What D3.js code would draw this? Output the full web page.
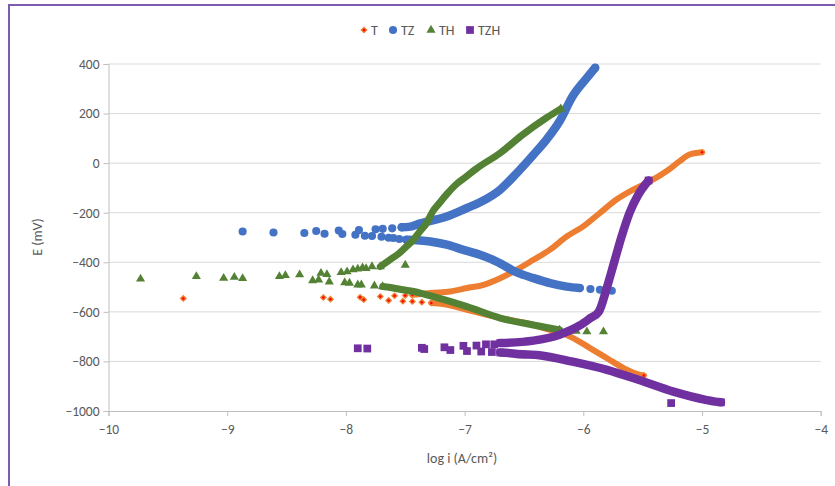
<!DOCTYPE html>
<html>
<head>
<meta charset="utf-8">
<script src="https://cdn.jsdelivr.net/npm/d3@7"></script>
<style>
  html, body { margin: 0; padding: 0; background: #ffffff; }
  svg { display: block; font-family: "Carlito", "Lato", "Open Sans", sans-serif; }
</style>
</head>
<body>
<svg id="chart" width="835" height="486"></svg>
<script>
// ---------- DATA ----------
const seriesNames = ["T", "TZ", "TH", "TZH"];
const xTicks = [-10, -9, -8, -7, -6, -5, -4];
const yTicks = [-1000, -800, -600, -400, -200, 0, 200, 400];
const xTitle = "log i (A/cm²)";
const yTitle = "E (mV)";

// T
const tScatter = [[-9.37,-546],[-8.19,-542],[-8.13,-549],[-7.88,-541],[-7.85,-551],[-7.71,-538],[-7.64,-554],[-7.59,-535],[-7.52,-557],[-7.50,-534],[-7.44,-558],[-7.36,-561]];
const tAnodic = [[-7.44,-531],[-7.38,-529],[-7.29,-524],[-7.12,-518],[-6.98,-504],[-6.84,-491],[-6.70,-464],[-6.56,-430],[-6.42,-390],[-6.28,-349],[-6.14,-296],[-6.00,-255],[-5.86,-201],[-5.72,-147],[-5.58,-107],[-5.44,-74],[-5.30,-33],[-5.19,7],[-5.11,34],[-5.00,44]];
const tCathodic = [[-7.28,-564],[-7.18,-568],[-6.98,-592],[-6.70,-625],[-6.42,-653],[-6.28,-673],[-6.14,-693],[-5.94,-747],[-5.80,-787],[-5.66,-827],[-5.52,-854],[-5.49,-857]];

// TZ
const tzScatter = [[-8.87,-276],[-8.61,-280],[-8.35,-282],[-8.25,-274],[-8.18,-285],[-8.06,-272],[-8.03,-286],[-7.92,-289],[-7.89,-270],[-7.84,-293],[-7.78,-294],[-7.75,-267],[-7.69,-265],[-7.61,-263],[-7.70,-297],[-7.64,-301],[-7.60,-302],[-7.55,-306],[-5.94,-508],[-5.86,-511],[-5.76,-515]];
const tzAnodic = [[-7.53,-259],[-7.47,-257],[-7.38,-244],[-7.15,-215],[-6.98,-181],[-6.87,-158],[-6.70,-107],[-6.56,-40],[-6.42,34],[-6.31,95],[-6.20,169],[-6.09,270],[-5.97,344],[-5.90,385]];
const tzCathodic = [[-7.49,-309],[-7.29,-316],[-7.15,-329],[-7.01,-350],[-6.87,-370],[-6.73,-397],[-6.56,-441],[-6.42,-464],[-6.28,-484],[-6.14,-498],[-6.03,-504]];

// TH
const thScatter = [[-9.73,-467],[-9.26,-457],[-9.03,-464],[-8.94,-460],[-8.87,-465],[-8.56,-457],[-8.51,-453],[-8.39,-450],[-8.28,-474],[-8.23,-471],[-8.21,-444],[-8.16,-449],[-8.14,-479],[-8.04,-441],[-7.99,-438],[-7.94,-430],[-7.90,-427],[-7.86,-422],[-7.83,-425],[-7.78,-417],[-8.01,-482],[-7.97,-484],[-7.90,-491],[-7.87,-491],[-7.76,-495],[-7.50,-411],[-6.06,-678],[-5.97,-680],[-5.83,-680]];
const thAnodic = [[-7.71,-417],[-7.63,-390],[-7.55,-363],[-7.49,-336],[-7.43,-309],[-7.38,-277],[-7.32,-242],[-7.27,-196],[-7.21,-160],[-7.15,-125],[-7.07,-85],[-6.98,-52],[-6.90,-22],[-6.70,41],[-6.51,115],[-6.31,183],[-6.19,219]];
const thCathodic = [[-7.69,-498],[-7.60,-504],[-7.52,-511],[-7.43,-518],[-7.27,-538],[-6.98,-579],[-6.70,-625],[-6.42,-653],[-6.20,-673]];

// TZH
const tzhScatter = [[-7.90,-747],[-7.82,-748],[-7.36,-745],[-7.34,-750],[-7.17,-743],[-7.12,-754],[-7.01,-737],[-6.98,-758],[-6.90,-736],[-6.86,-760],[-6.82,-731],[-6.77,-762],[-6.75,-731],[-5.26,-968]];
const tzhAnodic = [[-6.70,-726],[-6.42,-716],[-6.20,-692],[-6.03,-655],[-5.94,-625],[-5.87,-600],[-5.80,-500],[-5.74,-400],[-5.68,-300],[-5.61,-200],[-5.54,-130],[-5.45,-70]];
const tzhCathodic = [[-6.70,-764],[-6.63,-766],[-6.56,-770],[-6.37,-775],[-6.09,-801],[-5.80,-834],[-5.53,-875],[-5.24,-922],[-4.96,-956],[-4.89,-962],[-4.84,-965]];

// ---------- CHART ----------
const svg = d3.select("#chart");
const W = 835, H = 486;
const x = d3.scaleLinear().domain([-10, -4]).range([108.5, 820.7]);
const y = d3.scaleLinear().domain([-1000, 400]).range([411, 64]);

const textColor = "#595959";
const gridColor = "#d9d9d9";
const axisColor = "#bfbfbf";
const fontFam = "Carlito, Lato, sans-serif";

// frame
svg.append("line").attr("x1", 9).attr("x2", W).attr("y1", 5).attr("y2", 5)
  .attr("stroke", "#7f5bb0").attr("stroke-width", 2);
svg.append("line").attr("x1", 9).attr("x2", 9).attr("y1", 4).attr("y2", H)
  .attr("stroke", "#7f5bb0").attr("stroke-width", 2);

// gridlines
svg.append("g").selectAll("line").data(yTicks.filter(d => d !== -1000)).join("line")
  .attr("x1", x(-10)).attr("x2", x(-4))
  .attr("y1", d => y(d)).attr("y2", d => y(d))
  .attr("stroke", gridColor).attr("stroke-width", 1);

// y axis
const yAxis = d3.axisLeft(y).tickValues(yTicks).tickSize(5).tickPadding(4).tickFormat(d3.format("d"));
const gy = svg.append("g").attr("transform", `translate(${x(-10)},0)`).call(yAxis);
gy.selectAll("path, line").attr("stroke", axisColor);
gy.selectAll("text").attr("fill", textColor).style("font-size", "13.5px").style("font-family", fontFam);

// x axis
const xAxis = d3.axisBottom(x).tickValues(xTicks).tickSize(5).tickPadding(8).tickFormat(d3.format("d"));
const gx = svg.append("g").attr("transform", `translate(0,${y(-1000)})`).call(xAxis);
gx.selectAll("path, line").attr("stroke", axisColor);
gx.selectAll("text").attr("fill", textColor).style("font-size", "13.5px").style("font-family", fontFam);

// axis titles
svg.append("text").attr("transform", `translate(42,237) rotate(-90)`)
  .attr("text-anchor", "middle").attr("fill", textColor).style("font-size", "14px").text(yTitle);
svg.append("text").attr("x", 462).attr("y", 463)
  .attr("text-anchor", "middle").attr("fill", textColor).style("font-size", "14px").text(xTitle);

// styles
const styles = {
  T:   { color: "#ED7D31", width: 6,   symbol: d3.symbolSquare,   size: 26, rotate: 45 },
  TZ:  { color: "#4472C4", width: 8.5, symbol: d3.symbolCircle,   size: 52, rotate: 0 },
  TH:  { color: "#548235", width: 7,   symbol: d3.symbolTriangle, size: 36, rotate: 0 },
  TZH: { color: "#7030A0", width: 8.5, symbol: d3.symbolSquare,   size: 60, rotate: 0 }
};

const seriesData = {
  T:   { scatter: tScatter,   branches: [tCathodic, tAnodic] },
  TZ:  { scatter: tzScatter,  branches: [tzCathodic, tzAnodic] },
  TH:  { scatter: thScatter,  branches: [thCathodic, thAnodic] },
  TZH: { scatter: tzhScatter, branches: [tzhCathodic, tzhAnodic] }
};

const line = d3.line().x(d => x(d[0])).y(d => y(d[1])).curve(d3.curveMonotoneX);

function drawMarker(g, name, cx, cy) {
  const s = styles[name];
  g.append("path")
    .attr("d", d3.symbol().type(s.symbol).size(s.size)())
    .attr("transform", `translate(${cx},${cy}) rotate(${s.rotate})`)
    .attr("fill", s.color);
  if (name === "T") {
    g.append("circle").attr("cx", cx).attr("cy", cy).attr("r", 1.3).attr("fill", "#ff0000");
  }
}

seriesNames.forEach(name => {
  const s = styles[name];
  const g = svg.append("g");
  const sd = seriesData[name];
  sd.branches.forEach(br => {
    g.append("path").datum(br).attr("d", line)
      .attr("fill", "none").attr("stroke", s.color)
      .attr("stroke-width", s.width).attr("stroke-linejoin", "round").attr("stroke-linecap", "round");
    [br[0], br[br.length - 1]].forEach(p => drawMarker(g, name, x(p[0]), y(p[1])));
  });
  sd.scatter.forEach(p => drawMarker(g, name, x(p[0]), y(p[1])));
});

// legend
const legendItems = [
  { name: "T", mx: 364, tx: 371 },
  { name: "TZ", mx: 393, tx: 401 },
  { name: "TH", mx: 431, tx: 439 },
  { name: "TZH", mx: 470, tx: 478 }
];
const lg = svg.append("g");
legendItems.forEach(it => {
  drawMarker(lg, it.name, it.mx, 30);
  lg.append("text").attr("x", it.tx).attr("y", 35).attr("fill", textColor)
    .style("font-size", "14px").text(it.name);
});
</script>
</body>
</html>
